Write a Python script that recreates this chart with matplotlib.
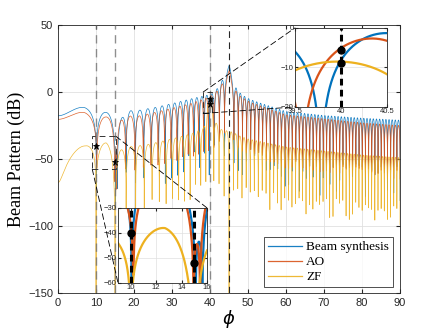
import numpy as np
import matplotlib.pyplot as plt
from matplotlib.patches import Rectangle, ConnectionPatch

# ---- data ----
# lobe index pinned at angles (integer = null of the lobe train)
bs_idx_phi = [0, 10.08, 15.1, 39.78, 43.8, 46.3, 90]
bs_idx_val = [-0.83, 0, 1, 15, 18, 19, 67]
ao_idx_phi = [0, 10.2, 14.95, 39.57, 43.8, 46.3, 90]
ao_idx_val = [-0.8, 0, 1, 15, 18, 19, 67]
zf_idx_phi = [0, 10, 15, 38.9, 41.0, 45, 90]
zf_idx_val = [-0.985, 0, 1, 14, 15, 18, 67]

# sidelobe peak level (dB)
bs_env_phi = [0, 7, 12.5, 17.6, 20.5, 25, 30, 35, 39, 40.8, 42.6, 45.05, 46.6, 47.9, 49.2, 50.5, 53, 60, 70, 80, 90]
bs_env_db = [-11.8, -11.0, -12.5, -10.5, -13, -11.5, -8.5, -5, -2.5, -1, 5, 20, 4, -0.7, -3.5, -5.4, -8, -14.5, -17.5, -19.5, -21]
ao_env_phi = [0, 7, 12.5, 17.6, 20.5, 25, 30, 35, 39, 40.8, 42.6, 45.05, 46.6, 47.9, 50.5, 53, 60, 70, 80, 90]
ao_env_db = [-15.8, -15.0, -17.5, -16.5, -18, -15.5, -12, -8.5, -4.5, -2, 3, 16, 1.5, -3, -7.5, -10, -17, -20, -23, -25]
zf_env_phi = [0, 7, 12.7, 17.6, 22.6, 26.8, 31.3, 35.7, 38.3, 39.4, 40.6, 41.3, 43, 46, 48, 50, 55, 60, 70, 80, 90]
zf_env_db = [-41, -40, -35.6, -40, -39.5, -37, -34, -30.5, -27, -8.5, -8.5, -22, -28, -30, -33, -35, -38, -41, -44, -47, -49]

# null floors (dB below peak level) and forced nulls (angle, width)
bs_floor, ao_floor, zf_floor = -60, -40, -50
bs_nulls = [(15.625, 2.8)]
ao_nulls = [(15.455, 1.5)]
zf_nulls = [(10, 0.01), (15, 2.0), (45, 0.01)]

# marked points
mark_phi = [10, 15, 40, 40]
mark_db = [-40, -52, -5.5, -9]

labels = ["Beam synthesis", "AO", "ZF"]
colors = ["#0072BD", "#D95319", "#EDB120"]


def pattern(phi, idx_phi, idx_val, env_phi, env_db, floor_db, nulls):
    u = np.cos(np.radians(phi))
    idx = np.interp(-u, -np.cos(np.radians(idx_phi)), idx_val)
    env = np.interp(phi, env_phi, env_db)
    s = np.abs(np.sin(np.pi * idx))
    fl = 10 ** (floor_db / 20)
    y = env + 20 * np.log10(np.sqrt(s ** 2 + fl ** 2))
    for c, w in nulls:
        d = np.abs(phi - c)
        y += 20 * np.log10(d / np.sqrt(d ** 2 + w ** 2) + 1e-12)
    return y


series = [
    (bs_idx_phi, bs_idx_val, bs_env_phi, bs_env_db, bs_floor, bs_nulls),
    (ao_idx_phi, ao_idx_val, ao_env_phi, ao_env_db, ao_floor, ao_nulls),
    (zf_idx_phi, zf_idx_val, zf_env_phi, zf_env_db, zf_floor, zf_nulls),
]

plt.rcParams["font.family"] = "Liberation Sans"
tick_color = "#262626"

fig = plt.figure(figsize=(4.43, 3.32), dpi=100)
ax = fig.add_axes([0.131, 0.1175, 0.772, 0.8072])

phi = np.round(np.arange(0, 90.0001, 0.01), 4)
for s, lab, col in zip(series, labels, colors):
    ax.plot(phi, pattern(phi, *s), color=col, lw=0.5, alpha=0.9, label=lab)

# reference angles
for a in [10, 15, 40]:
    ax.axvline(a, color="0.45", lw=1.0, ls=(0, (6, 4)), alpha=0.8, zorder=4)
ax.axvline(45, color="0.15", lw=0.8, ls=(0, (6, 4)), zorder=4)
ax.plot(mark_phi, mark_db, "*", color="k", ms=5, mew=0.6, zorder=5)

ax.set_xlim(0, 90)
ax.set_ylim(-150, 50)
ax.set_xticks(range(0, 91, 10))
ax.set_yticks(range(-150, 51, 50))
ax.grid(True, color="0.88", lw=0.6)
ax.tick_params(direction="in", labelsize=8, colors=tick_color, top=True, right=True, length=3)
for sp in ax.spines.values():
    sp.set_color(tick_color)
    sp.set_linewidth(0.6)
ax.set_xlabel(r"$\phi$", fontsize=13, family="Liberation Serif", labelpad=0)
ax.set_ylabel("Beam Pattern (dB)", fontsize=13, family="Liberation Serif", labelpad=2)

leg = ax.legend(loc="lower right", bbox_to_anchor=(0.98, 0.022), prop={"family": "Liberation Serif", "size": 9.5},
                handlelength=2.6, frameon=True, fancybox=False, borderpad=0.3, labelspacing=0.2,
                handletextpad=0.3, borderaxespad=0)
leg.get_frame().set_edgecolor("k")
leg.get_frame().set_linewidth(0.6)
for ln in leg.get_lines():
    ln.set_linewidth(0.9)

# zoom boxes on main axes
box_lo = Rectangle((9, -57.5), 6.2, 24.5, fill=False, ec="0.2", lw=0.7, ls=(0, (6, 4)), zorder=6)
box_hi = Rectangle((38.2, -16), 2.3, 16, fill=False, ec="0.2", lw=0.7, ls=(0, (6, 4)), zorder=6)
ax.add_patch(box_lo)
ax.add_patch(box_hi)

# lower inset
ins1 = fig.add_axes([0.2664, 0.1476, 0.201, 0.226])
p1 = np.linspace(9, 16, 3000)
for s, col in zip(series, colors):
    ins1.plot(p1, pattern(p1, *s), color=col, lw=1.6)
for a in [10, 15]:
    ins1.axvline(a, color="k", lw=2.2, ls=(0, (2.2, 1.4)))
ins1.plot(mark_phi[:2], mark_db[:2], "o", color="k", ms=5)
ins1.set_xlim(9, 16)
ins1.set_ylim(-60, -30)
ins1.set_xticks([10, 12, 14, 16])
ins1.set_yticks([-60, -50, -40, -30])

# upper inset
ins2 = fig.add_axes([0.666, 0.678, 0.2077, 0.238])
p2 = np.linspace(39.5, 40.5, 2000)
for s, col in zip(series, colors):
    ins2.plot(p2, pattern(p2, *s), color=col, lw=1.6)
ins2.axvline(40, color="k", lw=2.2, ls=(0, (2.2, 1.4)))
ins2.plot(mark_phi[2:], mark_db[2:], "o", color="k", ms=5)
ins2.set_xlim(39.5, 40.5)
ins2.set_ylim(-20, 0)
ins2.set_xticks([39.5, 40, 40.5])
ins2.set_xticklabels(["39.5", "40", "40.5"])
ins2.set_yticks([-20, -10, 0])

for ins in (ins1, ins2):
    ins.grid(True, color="0.88", lw=0.5)
    ins.tick_params(direction="in", labelsize=5.5, colors=tick_color, top=True, right=True, length=2, pad=1)
    for sp in ins.spines.values():
        sp.set_color(tick_color)
        sp.set_linewidth(0.6)

# connector lines
con_kw = dict(color="k", lw=0.6, ls=(0, (7, 4)), zorder=6)
fig.add_artist(ConnectionPatch((15.2, -33), (1, 1), coordsA="data", coordsB="axes fraction",
                               axesA=ax, axesB=ins1, **con_kw))
fig.add_artist(ConnectionPatch((9, -57.5), (0, 0), coordsA="data", coordsB="axes fraction",
                               axesA=ax, axesB=ins1, **con_kw))
fig.add_artist(ConnectionPatch((38.2, 0), (0, 1), coordsA="data", coordsB="axes fraction",
                               axesA=ax, axesB=ins2, **con_kw))
fig.add_artist(ConnectionPatch((38.2, -16), (0, 0), coordsA="data", coordsB="axes fraction",
                               axesA=ax, axesB=ins2, **con_kw))

plt.savefig("out.png", dpi=100)
